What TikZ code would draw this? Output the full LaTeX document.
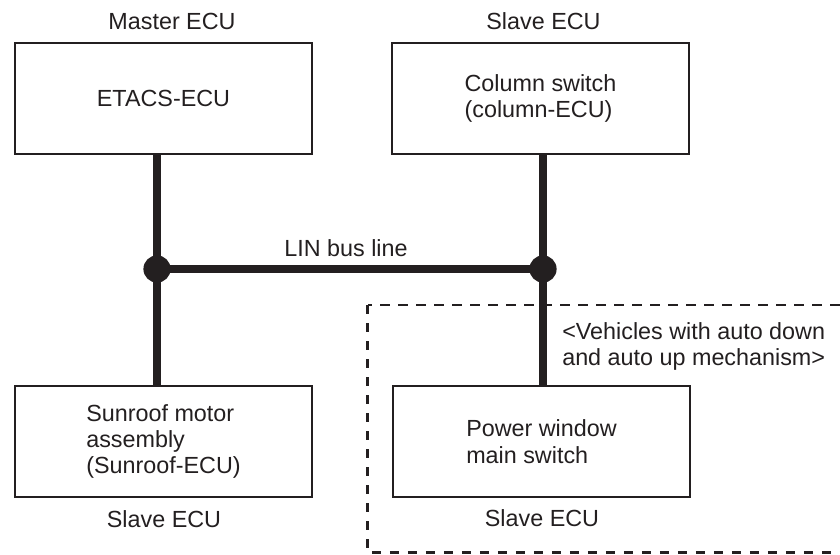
\documentclass[tikz,border=0pt]{standalone}
\usepackage{fontspec}
\setmainfont{Liberation Sans}
\definecolor{ink}{RGB}{35,31,32}

\tikzset{
  ecu/.style={draw=ink, line width=1.4pt, minimum width=7.425cm, minimum height=2.775cm, align=left, inner sep=0pt},
  role/.style={inner sep=0pt},
  bus/.style={draw=ink, line width=5.7pt},
  joint/.style={circle, fill=ink, minimum size=0.68cm, inner sep=0pt},
  optbox/.style={draw=ink, line width=1.7pt, dash pattern=on 6.6pt off 6.2pt}
}

\begin{document}
\begin{tikzpicture}[x=0.025cm, y=-0.025cm, text=ink, font=\fontsize{16.6}{18.8}\selectfont]
			%%%%% START %%%%%
			\clip (0,0) rectangle (840,554);

			% boxes
			\node[ecu] (etacs) at (163.5,98.5) {ETACS-ECU};
			\node[ecu] (column) at (540.5,98.5) {Column switch\\(column-ECU)};
			\node[ecu] (sunroof) at (163.5,441.5) {Sunroof motor\\assembly\\(Sunroof-ECU)};
			\node[ecu] (pwswitch) at (541.5,441.5) {Power window\\main switch};

			% roles
			\node[role] (master) at (172,21) {Master ECU};
			\node[role] (slaveA) at (543.5,21) {Slave ECU};
			\node[role] (slaveB) at (164,519) {Slave ECU};
			\node[role] (slaveC) at (542,518) {Slave ECU};

			% bus
			\node[joint] (jl) at (157,269) {};
			\node[joint] (jr) at (543,269) {};
			\draw[bus] (jl.center) -- (jr.center);
			\draw[bus] (etacs.south -| jl) -- (jl.center) -- (sunroof.north -| jl);
			\draw[bus] (column.south -| jr) -- (jr.center) -- (pwswitch.north -| jr);
			\node[role] (linbus) at (346,248) {LIN bus line};

			% option
			\draw[optbox] (367.5,305) rectangle (860,552.5);
			\node[role, anchor=west, align=left] (option) at (562,346.5) {<Vehicles with auto down\\and auto up mechanism>};

			%%%%% END %%%%%
		\end{tikzpicture}
\end{document}
